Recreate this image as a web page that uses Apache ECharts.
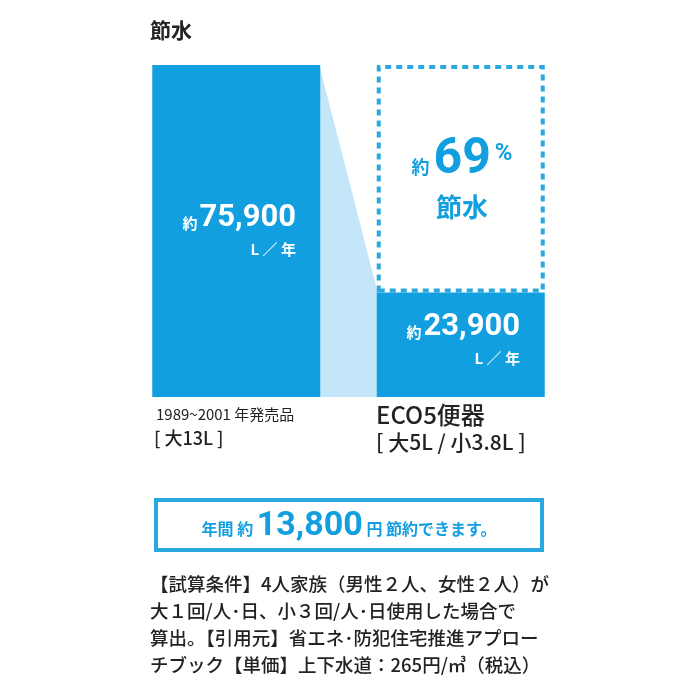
<!DOCTYPE html>
<html><head><meta charset="utf-8">
<script src="https://cdn.jsdelivr.net/npm/echarts@6/dist/echarts.min.js"></script>
<style>html,body{margin:0;background:#fff}#c{width:700px;height:700px}</style></head>
<body><div id="c"></div>
<script>
const categories = ['1989~2001 年発売品', 'ECO5便器'];
const subLabels = ['[ 大13L ]', '[ 大5L / 小3.8L ]'];
const values = [75900, 23900];
const savingPct = 69;
const yenSaving = '13,800';
const notes = ['【試算条件】4人家族（男性２人、女性２人）が','大１回/人･日、小３回/人･日使用した場合で','算出。【引用元】省エネ･防犯住宅推進アプロー','チブック【単価】上下水道：265円/㎥（税込）'];
const BLUE = '#129fe0', LIGHT = '#c3e6f8', DASH = '#2aa8e0';
const F = 'Roboto, "Noto Sans CJK JP", sans-serif';
const fmt = v => v.toLocaleString('en-US');
const chart = echarts.init(document.getElementById('c'));
const BW = 168;
const T = (o) => Object.assign({type: 'text', z: 100}, o);
chart.setOption({
  animation: false,
  grid: {left: 124, right: 127, top: 65, bottom: 303},
  xAxis: {type: 'category', data: categories, show: false},
  yAxis: {type: 'value', min: 0, max: values[0], show: false},
  series: [
    {type: 'custom', z: 1, data: [0], renderItem: (p, api) => {
      const a = api.coord([0, values[0]]), b = api.coord([1, values[1]]), o0 = api.coord([0, 0]), o1 = api.coord([1, 0]);
      return {type: 'polygon', shape: {points: [[a[0]+BW/2-1, a[1]], [b[0]-BW/2+1, b[1]], [o1[0]-BW/2+1, o1[1]], [o0[0]+BW/2-1, o0[1]]]}, style: {fill: LIGHT}};
    }},
    {type: 'bar', stack: 's', barWidth: BW, z: 2, data: values, itemStyle: {color: BLUE}},
    {type: 'bar', stack: 's', barWidth: BW, z: 2, data: [null, values[0] - values[1]],
      itemStyle: {color: '#fff', borderColor: DASH, borderWidth: 4, borderType: [6, 5]}}
  ],
  graphic: [
    T({left: 150, top: 20, style: {text: '節水', font: 'bold 21px "Noto Sans CJK JP"', fill: '#222'}}),
    T({x: 296, y: 218, style: {text: '{s|約}{b|' + fmt(values[0]) + '}', align: 'right', verticalAlign: 'middle', rich: {s: {fontSize: 15, fontWeight: 'bold', fontFamily: 'Noto Sans CJK JP', fill: '#fff', padding: [10,2,0,0]}, b: {fontSize: 31, fontWeight: 'bold', fontFamily: F, fill: '#fff'}}}}),
    T({x: 296, y: 249, style: {text: 'L ／ 年', align: 'right', verticalAlign: 'middle', font: 'bold 15px "Noto Sans CJK JP"', fill: '#fff'}}),
    T({x: 520, y: 327, style: {text: '{s|約}{b|' + fmt(values[1]) + '}', align: 'right', verticalAlign: 'middle', rich: {s: {fontSize: 15, fontWeight: 'bold', fontFamily: 'Noto Sans CJK JP', fill: '#fff', padding: [10,2,0,0]}, b: {fontSize: 31, fontWeight: 'bold', fontFamily: F, fill: '#fff'}}}}),
    T({x: 520, y: 358, style: {text: 'L ／ 年', align: 'right', verticalAlign: 'middle', font: 'bold 15px "Noto Sans CJK JP"', fill: '#fff'}}),
    T({x: 462, y: 160, style: {text: '{s|約}{b|' + savingPct + '}{p|%}', align: 'center', verticalAlign: 'middle', rich: {s: {fontSize: 18, fontWeight: 'bold', fontFamily: 'Noto Sans CJK JP', fill: BLUE, padding: [14,4,0,0]}, b: {fontSize: 50, fontWeight: 'bold', fontFamily: F, fill: BLUE}, p: {fontSize: 24, fontWeight: 'bold', fontFamily: F, fill: BLUE, padding: [0,0,12,4]}}}}),
    T({x: 462, y: 207, style: {text: '節水', align: 'center', verticalAlign: 'middle', font: 'bold 26px "Noto Sans CJK JP"', fill: BLUE}}),
    T({x: 156, y: 414, style: {text: categories[0], verticalAlign: 'middle', font: '15px "Noto Sans CJK JP"', fill: '#222'}}),
    T({x: 154, y: 438, style: {text: subLabels[0], verticalAlign: 'middle', font: '500 18px "Noto Sans CJK JP"', fill: '#222'}}),
    T({x: 376, y: 415, style: {text: categories[1], verticalAlign: 'middle', font: '500 24px "Noto Sans CJK JP"', fill: '#222'}}),
    T({x: 376, y: 442, style: {text: subLabels[1], verticalAlign: 'middle', font: '500 21px "Noto Sans CJK JP"', fill: '#222'}}),
    {type: 'rect', z: 90, shape: {x: 156, y: 500, width: 386, height: 50}, style: {fill: '#fff', stroke: DASH, lineWidth: 4}},
    T({x: 349, y: 526, style: {text: '{a|年間 約 }{b|' + yenSaving + '}{a| 円 節約できます。}', align: 'center', verticalAlign: 'middle', rich: {a: {fontSize: 16, fontWeight: 'bold', fontFamily: 'Noto Sans CJK JP', fill: BLUE, padding: [6,0,0,0]}, b: {fontSize: 34, fontWeight: 'bold', fontFamily: F, fill: BLUE}}}}),
    ...notes.map((t, i) => T({x: 150, y: 584 + i * 27, style: {text: t, verticalAlign: 'middle', font: '500 18.5px "Noto Sans CJK JP"', fill: '#222'}}))
  ]
});
</script></body></html>
